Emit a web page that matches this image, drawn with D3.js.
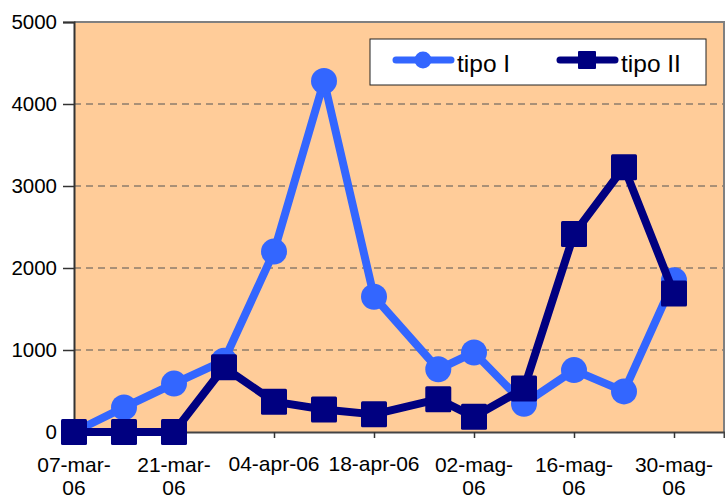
<!DOCTYPE html>
<html>
<head>
<meta charset="utf-8">
<script src="https://cdn.jsdelivr.net/npm/d3@7"></script>
<style>
  html, body { margin: 0; padding: 0; background: #ffffff; }
  svg { display: block; font-family: "Liberation Sans", Arial, sans-serif; }
</style>
</head>
<body>
<svg id="chart" width="725" height="498"></svg>
<script>
// Sampling dates (day-month-year)
const dates = ["2006-03-07", "2006-03-14", "2006-03-21", "2006-03-28", "2006-04-04",
               "2006-04-11", "2006-04-18", "2006-04-27", "2006-05-02", "2006-05-09",
               "2006-05-16", "2006-05-23", "2006-05-30"];
const tipoI  = [0, 300, 590, 870, 2200, 4280, 1650, 765, 970, 345, 755, 495, 1850];
const tipoII = [0, 0, 0, 790, 370, 275, 215, 400, 185, 530, 2415, 3230, 1690];
const seriesNames = ["tipo I", "tipo II"];
const yTicks = [0, 1000, 2000, 3000, 4000, 5000];
const xTickDates = ["2006-03-07", "2006-03-21", "2006-04-04", "2006-04-18",
                    "2006-05-02", "2006-05-16", "2006-05-30"];
const monthsIt = ["gen", "feb", "mar", "apr", "mag", "giu", "lug", "ago", "set", "ott", "nov", "dic"];
const axisStart = "2006-03-07", axisEnd = "2006-06-06";

const parse = d3.utcParse("%Y-%m-%d");
const fmt = d => d3.utcFormat("%d")(d) + "-" + monthsIt[d.getUTCMonth()] + "-" + d3.utcFormat("%y")(d);

const svg = d3.select("#chart");
const plotL = 74, plotR = 724, plotT = 22, plotB = 432;

const x = d3.scaleUtc().domain([parse(axisStart), parse(axisEnd)]).range([plotL, plotR]);
const y = d3.scaleLinear().domain([0, 5000]).range([plotB, plotT]);

// plot background
svg.append("rect")
  .attr("x", plotL).attr("y", plotT)
  .attr("width", plotR - plotL).attr("height", plotB - plotT)
  .attr("fill", "#FFCC99");

// dashed gridlines
svg.append("g").selectAll("line")
  .data(yTicks.filter(v => v > 0 && v < 5000))
  .join("line")
  .attr("x1", plotL).attr("x2", plotR)
  .attr("y1", d => y(d)).attr("y2", d => y(d))
  .attr("stroke", "#555555").attr("stroke-width", 1)
  .attr("stroke-dasharray", "7,5");

// top and right border of the plot area
svg.append("path")
  .attr("d", `M${plotL},${y(5000)}H${plotR}V${plotB}`)
  .attr("fill", "none").attr("stroke", "#808080").attr("stroke-width", 2);

// y axis
const yAxis = svg.append("g").attr("transform", `translate(${plotL},0)`)
  .call(d3.axisLeft(y).tickValues(yTicks).tickSize(11).tickPadding(6).tickFormat(d3.format("d")));
yAxis.select(".domain").attr("stroke", "#333333").attr("stroke-width", 2);
yAxis.selectAll(".tick line").attr("stroke", "#333333").attr("stroke-width", 1.5);
yAxis.selectAll(".tick text")
  .attr("font-size", 20.5).attr("fill", "#000").attr("font-family", "Liberation Sans, Arial, sans-serif")
  .attr("dy", "0.3em");

// x axis
const xAxis = svg.append("g").attr("transform", `translate(0,${plotB})`)
  .call(d3.axisBottom(x).tickValues(xTickDates.map(parse)).tickSize(6).tickFormat(""));
xAxis.select(".domain").attr("stroke", "#444444").attr("stroke-width", 2);
xAxis.selectAll(".tick line").attr("stroke", "#333333").attr("stroke-width", 1.5);

// x labels, wrapped after the last hyphen when too wide
const xl = svg.append("g").attr("font-size", 21).attr("text-anchor", "middle").attr("fill", "#000");
xTickDates.forEach(s => {
  const d = parse(s), label = fmt(d);
  const t = xl.append("text").attr("x", x(d)).attr("y", 471).text(label);
  if (t.node().getComputedTextLength() > 94) {
    const cut = label.lastIndexOf("-") + 1;
    t.text(null);
    t.append("tspan").attr("x", x(d)).attr("y", 472).text(label.slice(0, cut));
    t.append("tspan").attr("x", x(d)).attr("y", 495).text(label.slice(cut));
  }
});

const line = d3.line().x((d, i) => x(parse(dates[i]))).y(d => y(d));

// tipo I : line with round markers
svg.append("path").datum(tipoI)
  .attr("d", line).attr("fill", "none")
  .attr("stroke", "#3366FF").attr("stroke-width", 8).attr("stroke-linejoin", "round");
svg.append("g").selectAll("circle").data(tipoI).join("circle")
  .attr("cx", (d, i) => x(parse(dates[i]))).attr("cy", d => y(d))
  .attr("r", 13).attr("fill", "#3366FF");

// tipo II : line with square markers
svg.append("path").datum(tipoII)
  .attr("d", line).attr("fill", "none")
  .attr("stroke", "#000080").attr("stroke-width", 8).attr("stroke-linejoin", "round");
svg.append("g").selectAll("rect").data(tipoII).join("rect")
  .attr("x", (d, i) => x(parse(dates[i])) - 13).attr("y", d => y(d) - 13)
  .attr("width", 26).attr("height", 26).attr("rx", 1.5)
  .attr("fill", "#000080");

// legend
const lg = svg.append("g");
lg.append("rect").attr("x", 370).attr("y", 39).attr("width", 336).attr("height", 46)
  .attr("fill", "#ffffff").attr("stroke", "#222222").attr("stroke-width", 1);
const entries = [
  { name: seriesNames[0], color: "#3366FF", x0: 393, shape: "circle" },
  { name: seriesNames[1], color: "#000080", x0: 557, shape: "square" }
];
entries.forEach(e => {
  lg.append("line").attr("x1", e.x0 + 3).attr("x2", e.x0 + 58).attr("y1", 60).attr("y2", 60)
    .attr("stroke", e.color).attr("stroke-width", 7).attr("stroke-linecap", "round");
  const cx = e.x0 + 30;
  if (e.shape === "circle") {
    lg.append("circle").attr("cx", cx).attr("cy", 60).attr("r", 8.5).attr("fill", e.color);
  } else {
    lg.append("rect").attr("x", cx - 9).attr("y", 51).attr("width", 18).attr("height", 18)
      .attr("rx", 1).attr("fill", e.color);
  }
  lg.append("text").attr("x", e.x0 + 64).attr("y", 72).attr("font-size", 24.5).attr("fill", "#000")
    .text(e.name);
});
</script>
</body>
</html>
